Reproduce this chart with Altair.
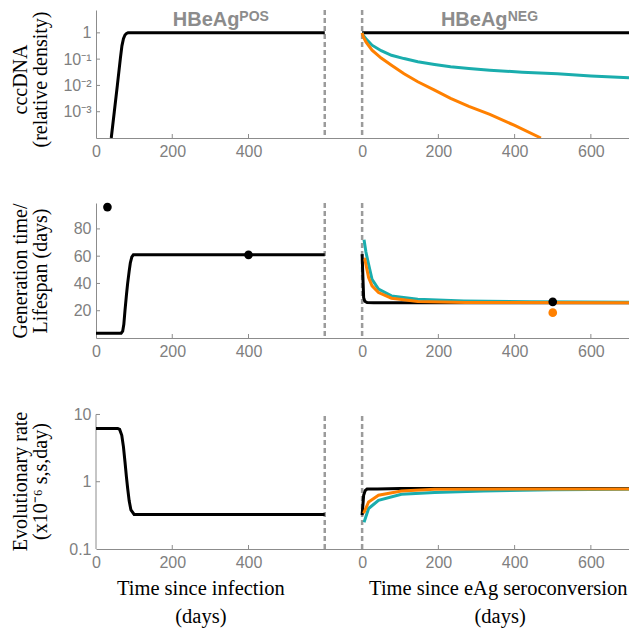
import altair as alt
import pandas as pd

# ---------------- layout constants ----------------
OFFSET = 698          # position of "time since eAg seroconversion = 0" on the shared x axis
X_MAX = OFFSET + 700
W = 533
H1, H2, H3 = 128, 135, 146
SPACING = 65

BLACK = "#000000"
TEAL = "#1aadad"
ORANGE = "#ff8000"
DASH_GREY = "#9b9b9b"
AXIS_GREY = "#8c8c8c"
LABEL_GREY = "#7f7f7f"
TITLE_GREY = "#8c8c8c"

# ---------------- data ----------------
# Row 1: cccDNA (relative density)
ccc_pos_t = [40, 48, 56, 64, 68, 72, 76, 80, 84, 600]
ccc_pos_v = [1e-4, 1e-3, 1e-2, 0.11, 0.32, 0.6, 0.83, 0.95, 1, 1]
ccc_neg_black_t = [0, 700]
ccc_neg_black_v = [1, 1]
ccc_neg_teal_t = [0, 3, 10, 26, 50, 77, 110, 146, 190, 232, 280, 335, 420, 512, 600, 700]
ccc_neg_teal_v = [1, 0.79, 0.60, 0.34, 0.21, 0.14, 0.105, 0.079, 0.063, 0.051, 0.044,
                  0.038, 0.032, 0.028, 0.023, 0.0195]
ccc_neg_orange_t = [0, 3, 10, 26, 50, 77, 110, 146, 190, 232, 280, 335, 400, 469]
ccc_neg_orange_v = [1, 0.71, 0.45, 0.22, 0.11, 0.059, 0.028, 0.0138, 0.0066, 0.0032,
                    0.0016, 0.00079, 0.0003, 0.0001]

# Row 2: generation time / lifespan (days)
gen_pos_t = [0, 66, 70, 73, 76, 80, 83, 87, 90, 94, 98, 600]
gen_pos_v = [3.5, 3.5, 5, 10, 20, 32, 40, 49, 55, 59.5, 61, 61]
gen_neg_black_t = [0, 2, 4, 7, 13, 30, 70, 700]
gen_neg_black_v = [61.5, 45, 29.6, 27, 26, 25.8, 25.8, 25.8]
gen_neg_teal_t = [5, 10, 17, 26, 43, 77, 146, 267, 440, 700]
gen_neg_teal_v = [72, 63, 54, 43, 35.8, 30.9, 28.4, 27.2, 26.5, 26.3]
gen_neg_orange_t = [5, 7, 17, 26, 43, 77, 146, 270, 700]
gen_neg_orange_v = [58, 57.9, 44.3, 38.2, 33.3, 29.2, 26.7, 26.0, 25.8]
gen_pos_dots_t = [30, 400]
gen_pos_dots_v = [96, 61]
gen_neg_dot_black_t = [500]
gen_neg_dot_black_v = [26.5]
gen_neg_dot_orange_t = [500]
gen_neg_dot_orange_v = [18.6]

# Row 3: evolutionary rate (x10^-6 s/s/day)
evo_pos_t = [0, 57, 62, 67.6, 72, 76, 80, 83, 87, 91.6, 100, 600]
evo_pos_v = [6.2, 6.2, 6.0, 4.9, 3.3, 1.98, 1.15, 0.8, 0.52, 0.38, 0.327, 0.327]
evo_neg_black_t = [0, 2, 4, 8, 13, 40, 100, 700]
evo_neg_black_v = [0.32, 0.45, 0.63, 0.74, 0.78, 0.78, 0.79, 0.79]
evo_neg_orange_t = [4, 17, 43, 103, 190, 400, 700]
evo_neg_orange_v = [0.34, 0.5, 0.63, 0.73, 0.77, 0.78, 0.78]
evo_neg_teal_t = [5, 7, 17, 43, 103, 190, 318, 500, 700]
evo_neg_teal_v = [0.25, 0.27, 0.4, 0.53, 0.65, 0.69, 0.73, 0.76, 0.77]

# axis ticks / labels
x_tick_pos = [0, 200, 400]
x_tick_neg = [0, 200, 400, 600]
ccc_ticks = [1, 0.1, 0.01, 0.001]
gen_ticks = [20, 40, 60, 80]
evo_ticks = [0.1, 1, 10]
evo_inner_ticks = [1, 10]

LEFT_END = 600        # end of the HBeAg-positive panel (dashed line)
NEG_START = 0         # seroconversion (dashed line)


def frame(t, v, key, neg=False):
    off = OFFSET if neg else 0
    return pd.DataFrame({"x": [ti + off for ti in t], "v": v, "key": key})


x_all_ticks = x_tick_pos + [t + OFFSET for t in x_tick_neg]

X = alt.X(
    "x:Q",
    scale=alt.Scale(domain=[0, X_MAX], nice=False, zero=False),
    axis=alt.Axis(
        values=x_all_ticks,
        labelExpr=f"datum.value >= {OFFSET} ? format(datum.value - {OFFSET}, 'd') : format(datum.value, 'd')",
        ticks=False, grid=False, domainColor=AXIS_GREY, domainWidth=1,
        labelColor=LABEL_GREY, labelFont="Liberation Sans", labelFontSize=16,
        labelPadding=5, labelFlush=False,
    ),
    title=None,
)


def yaxis(values, label_expr, h, domain=True, title_shift=0):
    return alt.Axis(
        values=values, labelExpr=label_expr, ticks=False, grid=False,
        domain=domain, domainColor=AXIS_GREY, domainWidth=1,
        labelColor=LABEL_GREY, labelFont="Liberation Sans", labelFontSize=16,
        labelPadding=5,
        titleFont="Liberation Serif", titleFontSize=20, titleFontWeight="normal",
        titleColor="black", titleAngle=270, titleX=-70, titleY=h / 2 + title_shift,
        titleAlign="center", titleBaseline="alphabetic", titleLineHeight=20,
    )


def line_layer(df, color, Y, width=3):
    return alt.Chart(df).mark_line(color=color, strokeWidth=width, clip=True).encode(
        x=X, y=Y, detail="key:N")


def dashed_full():
    df = pd.DataFrame({"x": [LEFT_END, NEG_START + OFFSET]})
    return alt.Chart(df).mark_rule(color=DASH_GREY, strokeWidth=2.5, strokeDash=[5, 3]).encode(x=X)


def x_inner_ticks(h):
    df = pd.DataFrame({"x": [200, 400] + [t + OFFSET for t in [200, 400, 600]]})
    return alt.Chart(df).mark_rule(color=AXIS_GREY, strokeWidth=1).encode(
        x=X, y=alt.value(h), y2=alt.value(h - 4))


def y_inner_ticks(vals, Y):
    df = pd.DataFrame({"v": vals})
    return alt.Chart(df).mark_rule(color=AXIS_GREY, strokeWidth=1).encode(
        y=Y, x=alt.value(0), x2=alt.value(4))


def panel_titles(Y, v_main, v_sup):
    main = pd.DataFrame({"x": [289, 294 + OFFSET], "v": [v_main, v_main],
                         "label": ["HBeAg", "HBeAg"]})
    sup = pd.DataFrame({"x": [376, 382 + OFFSET], "v": [v_sup, v_sup],
                        "label": ["POS", "NEG"]})
    a = alt.Chart(main).mark_text(font="Liberation Sans", fontWeight="bold", fontSize=20,
                                  color=TITLE_GREY, align="center", baseline="alphabetic").encode(
        x=X, y=Y, text="label:N")
    b = alt.Chart(sup).mark_text(font="Liberation Sans", fontWeight="bold", fontSize=14,
                                 color=TITLE_GREY, align="left", baseline="alphabetic").encode(
        x=X, y=Y, text="label:N")
    return a + b


# ---------------- Row 1 ----------------
Y1 = alt.Y(
    "v:Q",
    scale=alt.Scale(type="log", domain=[1e-4, 7.4], nice=False),
    axis=yaxis(ccc_ticks,
               "datum.value == 1 ? '1' : datum.value == 0.1 ? '10⁻¹' : datum.value == 0.01 ? '10⁻²' : '10⁻³'",
               H1, title_shift=5),
    title=["cccDNA", "(relative density)"],
)
r1_black = pd.concat([frame(ccc_pos_t, ccc_pos_v, "pos"),
                      frame(ccc_neg_black_t, ccc_neg_black_v, "neg", True)])
row1 = alt.layer(
    dashed_full(),
    line_layer(r1_black, BLACK, Y1),
    line_layer(frame(ccc_neg_teal_t, ccc_neg_teal_v, "teal", True), TEAL, Y1),
    line_layer(frame(ccc_neg_orange_t, ccc_neg_orange_v, "orange", True), ORANGE, Y1),
    x_inner_ticks(H1),
    y_inner_ticks(ccc_ticks, Y1),
    panel_titles(Y1, 1.82, 2.82),
).properties(width=W, height=H1)

# ---------------- Row 2 ----------------
Y2 = alt.Y(
    "v:Q",
    scale=alt.Scale(domain=[0, 99], nice=False, zero=False),
    axis=yaxis(gen_ticks, "format(datum.value, 'd')", H2),
    title=["Generation time/", "Lifespan (days)"],
)
r2_black = pd.concat([frame(gen_pos_t, gen_pos_v, "pos"),
                      frame(gen_neg_black_t, gen_neg_black_v, "neg", True)])
dots_black = pd.concat([frame(gen_pos_dots_t, gen_pos_dots_v, "d"),
                        frame(gen_neg_dot_black_t, gen_neg_dot_black_v, "d", True)])
dots_orange = frame(gen_neg_dot_orange_t, gen_neg_dot_orange_v, "d", True)
row2 = alt.layer(
    dashed_full(),
    line_layer(r2_black, BLACK, Y2),
    line_layer(frame(gen_neg_teal_t, gen_neg_teal_v, "teal", True), TEAL, Y2),
    line_layer(frame(gen_neg_orange_t, gen_neg_orange_v, "orange", True), ORANGE, Y2),
    alt.Chart(dots_black).mark_circle(color=BLACK, size=75, opacity=1).encode(x=X, y=Y2),
    alt.Chart(dots_orange).mark_circle(color=ORANGE, size=75, opacity=1).encode(x=X, y=Y2),
    x_inner_ticks(H2),
    y_inner_ticks(gen_ticks, Y2),
).properties(width=W, height=H2)

# ---------------- Row 3 ----------------
Y3 = alt.Y(
    "v:Q",
    scale=alt.Scale(type="log", domain=[0.1, 14.8], nice=False),
    axis=yaxis(evo_ticks,
               "datum.value == 0.1 ? '0.1' : datum.value == 1 ? '1' : '10'", H3, domain=False,
               title_shift=5),
    title=["Evolutionary rate", "(x10⁻⁶ s,s,day)"],
)
r3_black = pd.concat([frame(evo_pos_t, evo_pos_v, "pos"),
                      frame(evo_neg_black_t, evo_neg_black_v, "neg", True)])
axis_line3 = pd.DataFrame({"v": [evo_ticks[0]], "v2": [evo_ticks[-1]]})
dash3 = pd.DataFrame({"x": [LEFT_END, NEG_START + OFFSET],
                      "v": [evo_ticks[0]] * 2, "v2": [evo_ticks[-1]] * 2})
xtitles1 = pd.DataFrame({"x": [275, 1055], "label": ["Time since infection", "Time since eAg seroconversion"]})
xtitles2 = pd.DataFrame({"x": [275, 1060], "label": ["(days)", "(days)"]})
row3 = alt.layer(
    alt.Chart(dash3).mark_rule(color=DASH_GREY, strokeWidth=2.5, strokeDash=[5, 3]).encode(
        x=X, y=Y3, y2="v2:Q"),
    alt.Chart(axis_line3).mark_rule(color=AXIS_GREY, strokeWidth=1).encode(
        x=alt.value(0), y=Y3, y2="v2:Q"),
    line_layer(r3_black, BLACK, Y3),
    line_layer(frame(evo_neg_teal_t, evo_neg_teal_v, "teal", True), TEAL, Y3),
    line_layer(frame(evo_neg_orange_t, evo_neg_orange_v, "orange", True), ORANGE, Y3),
    x_inner_ticks(H3),
    y_inner_ticks(evo_inner_ticks, Y3),
    alt.Chart(xtitles1).mark_text(font="Liberation Serif", fontSize=20.5, color="black",
                                  align="center", baseline="alphabetic").encode(
        x=X, y=alt.value(H3 + 46), text="label:N"),
    alt.Chart(xtitles2).mark_text(font="Liberation Serif", fontSize=20.5, color="black",
                                  align="center", baseline="alphabetic").encode(
        x=X, y=alt.value(H3 + 74), text="label:N"),
).properties(width=W, height=H3)

chart = alt.vconcat(row1, row2, row3, spacing=SPACING, bounds="flush").properties(
    padding={"left": 2, "top": 0, "right": 0, "bottom": 0}
).configure_view(stroke=None)

chart.save("out.html", embed_options={"renderer": "svg", "actions": False})
